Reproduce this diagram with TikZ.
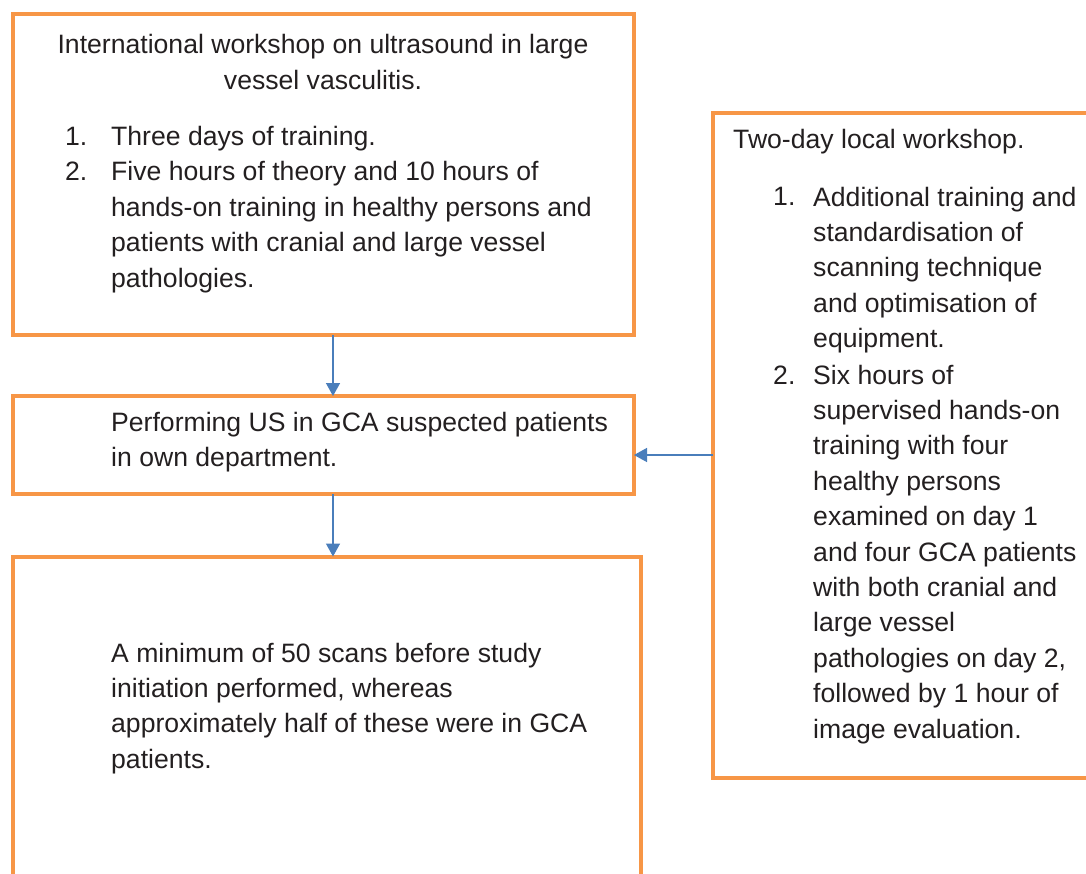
\documentclass[tikz,border=0pt]{standalone}
\usepackage{fontspec}
\setmainfont{Liberation Sans}
\usetikzlibrary{arrows.meta}
\definecolor{boxorange}{HTML}{F79646}
\definecolor{arrowblue}{HTML}{4A7EBB}
\definecolor{txt}{HTML}{231F20}
\tikzset{
  box/.style={draw=boxorange, line width=4pt, miter limit=10},
  txtblock/.style={anchor=base west, inner sep=0pt, align=left, text=txt,
    font=\fontsize{26.6}{35.4}\selectfont},
  ctrblock/.style={anchor=base, inner sep=0pt, align=center, text=txt,
    font=\fontsize{26.6}{35.4}\selectfont},
  flow/.style={draw=arrowblue, line width=1.5pt, -{Triangle[width=14pt,length=13pt]}}
}
\begin{document}
\begin{tikzpicture}[x=1pt,y=-1pt]
\useasboundingbox (0,0) rectangle (1086,874);
\begin{scope}
\clip (0,0) rectangle (1086,874);
% boxes
\draw[box] (12.5,14) rectangle (634,335);
\draw[box] (12.5,396) rectangle (634,494);
\draw[box] (12.5,556.5) rectangle (641,900);
\draw[box] (713,113) rectangle (1100,777.5);
\end{scope}
% anchors for connectors
\coordinate (b1s) at (333,335);
\coordinate (b2n) at (333,396);
\coordinate (b2s) at (333,494);
\coordinate (b3n) at (333,556.5);
\coordinate (b4w) at (713,455);
\coordinate (b2e) at (634,455);
% box 1 text (positions are last-line baselines)
\node[ctrblock] (t1) at (323,89.4) {International workshop on ultrasound in large\\vessel vasculitis.};
\node[txtblock] (n11) at (65,146) {1.};
\node[txtblock] (i11) at (111,146) {Three days of training.};
\node[txtblock] (n12) at (65,181) {2.};
\node[txtblock] (i12) at (111,287.2) {Five hours of theory and 10 hours of\\hands-on training in healthy persons and\\patients with cranial and large vessel\\pathologies.};
% box 2 text
\node[txtblock] (t2) at (111,466.4) {Performing US in GCA suspected patients\\in own department.};
% box 3 text
\node[txtblock] (t3) at (111,768.2) {A minimum of 50 scans before study\\initiation performed, whereas\\approximately half of these were in GCA\\patients.};
% box 4 text
\node[txtblock] (t4) at (733,149) {Two-day local workshop.};
\node[txtblock] (n41) at (773,206) {1.};
\node[txtblock] (i41) at (813,347.6) {Additional training and\\standardisation of\\scanning technique\\and optimisation of\\equipment.};
\node[txtblock] (n42) at (773,384) {2.};
\node[txtblock] (i42) at (813,738) {Six hours of\\supervised hands-on\\training with four\\healthy persons\\examined on day 1\\and four GCA patients\\with both cranial and\\large vessel\\pathologies on day 2,\\followed by 1 hour of\\image evaluation.};
% connectors
\draw[flow] (b1s) -- (b2n);
\draw[flow] (b2s) -- (b3n);
\draw[flow] (b4w) -- (b2e);
\end{tikzpicture}
\end{document}
